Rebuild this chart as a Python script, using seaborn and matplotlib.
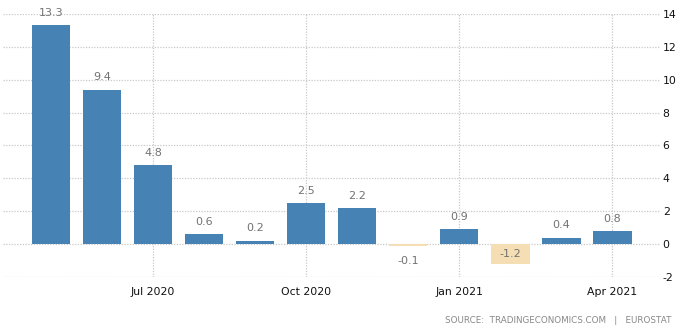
import matplotlib
matplotlib.use("Agg")
import matplotlib.pyplot as plt
import seaborn as sns
import pandas as pd

months = ["May 2020", "Jun 2020", "Jul 2020", "Aug 2020", "Sep 2020", "Oct 2020",
          "Nov 2020", "Dec 2020", "Jan 2021", "Feb 2021", "Mar 2021", "Apr 2021"]
values = [13.3, 9.4, 4.8, 0.6, 0.2, 2.5, 2.2, -0.1, 0.9, -1.2, 0.4, 0.8]
tick_months = ["Jul 2020", "Oct 2020", "Jan 2021", "Apr 2021"]
y_ticks = [-2, 0, 2, 4, 6, 8, 10, 12, 14]

POS_COLOR = "#4682b4"
NEG_COLOR = "#f5deb3"

sns.set_theme(style="white")
plt.rcParams["font.family"] = ["DejaVu Sans"]

df = pd.DataFrame({"month": months, "value": values})
palette = {m: (POS_COLOR if v >= 0 else NEG_COLOR) for m, v in zip(months, values)}

fig = plt.figure(figsize=(6.85, 3.31), dpi=100)
ax = fig.add_axes([0.0044, 0.163, 0.959, 0.795])

sns.barplot(data=df, x="month", y="value", hue="month", palette=palette,
            legend=False, width=0.75, saturation=1, linewidth=0, ax=ax, zorder=3)

ax.set_xlim(-0.94, 11.93)
ax.set_ylim(-2, 14)
ax.set_yticks(y_ticks)
ax.set_yticklabels([str(t) for t in y_ticks])
ax.yaxis.tick_right()

tick_pos = [months.index(m) for m in tick_months]
ax.set_xticks(tick_pos)
ax.set_xticklabels(tick_months)

ax.grid(True, axis="both", linestyle=(0, (1, 1.2)), color="#c8c8c8", linewidth=0.9, zorder=0)
for s in ax.spines.values():
    s.set_visible(False)

ax.tick_params(axis="x", length=4, color="#c8c8c8", labelsize=7.8, labelcolor="#111111", pad=3)
ax.tick_params(axis="y", length=0, labelsize=7.8, labelcolor="#111111", pad=2)
ax.set_xlabel("")
ax.set_ylabel("")

for i, v in enumerate(values):
    if v >= 0:
        ax.text(i, v + 0.45, f"{v:.1f}", ha="center", va="bottom",
                fontsize=8, color="#727272", zorder=4)
    elif v > -0.5:
        ax.text(i, v - 0.6, f"{v:.1f}", ha="center", va="top",
                fontsize=8, color="#727272", zorder=4)
    else:
        ax.text(i, v / 2, f"{v:.1f}", ha="center", va="center",
                fontsize=8, color="#727272", zorder=4)

fig.text(0.981, 0.033, "SOURCE:  TRADINGECONOMICS.COM   |   EUROSTAT",
         ha="right", va="center", fontsize=6.3, color="#888888")

fig.savefig("out.png", dpi=100)
